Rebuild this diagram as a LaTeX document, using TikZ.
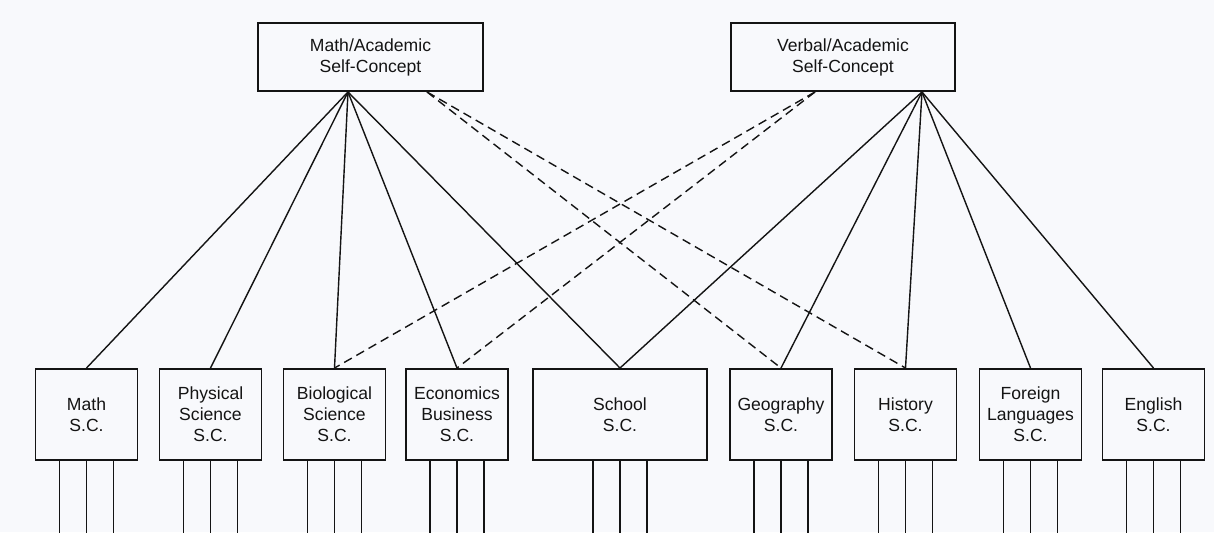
\documentclass[tikz,border=0pt]{standalone}
\usepackage{fontspec}
\setsansfont{Liberation Sans}
\usetikzlibrary{positioning, calc}
\definecolor{scInk}{RGB}{20, 20, 20}
\definecolor{scPaper}{RGB}{248, 249, 252}
\tikzset{
    base/.style={
        font=\sffamily,
        align=center,
        text=scInk
    },
    factor/.style={
        base,
        rectangle,
        draw=scInk,
        line width=1.1pt,
        minimum width=4.5cm,
        minimum height=1.36cm,
        inner sep=1mm
    },
    subscale/.style={
        base,
        rectangle,
        draw=scInk,
        line width=1.1pt,
        minimum width=2.04cm,
        minimum height=1.82cm,
        inner sep=1mm
    },
    link/.style={
        draw=scInk,
        line width=0.8pt
    },
    crosslink/.style={
        link,
        dash pattern=on 5pt off 3pt
    },
    indicator/.style={
        draw=scInk,
        line width=0.8pt
    }
}

\begin{document}
\begin{tikzpicture}
  % Paper
  \fill[scPaper] (0,0) rectangle (24.28,10.64);
  \useasboundingbox (0,0) rectangle (24.28,10.64);

  % Higher-order factors
  \node[factor] (mathac) at (7.41,9.5) {Math/Academic\\Self-Concept};
  \node[factor, minimum width=4.48cm] (verbac) at (16.86,9.5) {Verbal/Academic\\Self-Concept};

  % Subject self-concepts
  \node[subscale] (mathsc) at (1.73,2.35) {Math\\S.C.};
  \node[subscale] (physsc) at (4.21,2.35) {Physical\\Science\\S.C.};
  \node[subscale] (biosc) at (6.69,2.35) {Biological\\Science\\S.C.};
  \node[subscale] (econsc) at (9.14,2.35) {Economics\\Business\\S.C.};
  \node[subscale, minimum width=3.48cm] (schoolsc) at (12.4,2.35) {School\\S.C.};
  \node[subscale] (geosc) at (15.62,2.35) {Geography\\S.C.};
  \node[subscale] (histsc) at (18.11,2.35) {History\\S.C.};
  \node[subscale] (langsc) at (20.61,2.35) {Foreign\\Languages\\S.C.};
  \node[subscale] (engsc) at (23.07,2.35) {English\\S.C.};

  % Exit points on the factor boxes
  \coordinate (mathout) at ([xshift=-0.45cm]mathac.south);
  \coordinate (mathcross) at ([xshift=1.13cm]mathac.south);
  \coordinate (verbout) at ([xshift=1.58cm]verbac.south);
  \coordinate (verbcross) at ([xshift=-0.56cm]verbac.south);

  % Loadings
  \foreach \n in {mathsc, physsc, biosc, econsc, schoolsc}
    \draw[link] (mathout) -- (\n.north);
  \foreach \n in {schoolsc, geosc, histsc, langsc, engsc}
    \draw[link] (verbout) -- (\n.north);

  % Cross loadings
  \foreach \n in {geosc, histsc}
    \draw[crosslink] (mathcross) -- (\n.north);
  \foreach \n in {biosc, econsc}
    \draw[crosslink] (verbcross) -- (\n.north);

  % Indicators
  \foreach \n in {mathsc, physsc, biosc, econsc, schoolsc, geosc, histsc, langsc, engsc}
    \foreach \dx in {-0.54, 0, 0.54}
      \draw[indicator] ([xshift=\dx cm]\n.south) -- ++(0,-1.5);
\end{tikzpicture}
\end{document}
